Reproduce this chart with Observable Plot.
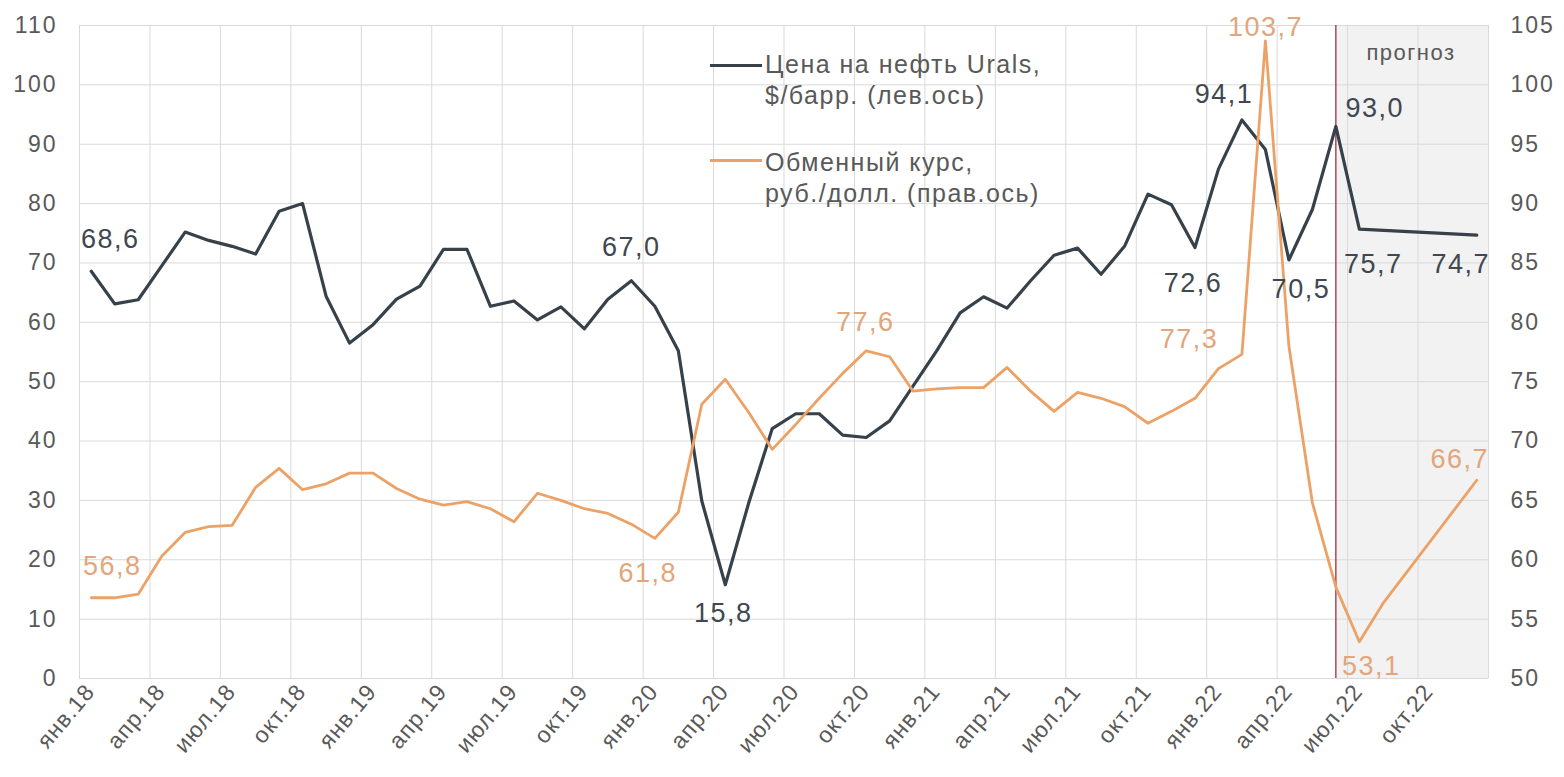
<!DOCTYPE html>
<html><head><meta charset="utf-8">
<script src="https://cdn.jsdelivr.net/npm/d3@7"></script>
<script src="https://cdn.jsdelivr.net/npm/@observablehq/plot@0.6"></script>
<style>
body{margin:0;background:#fff;}
#wrap{position:relative;width:1564px;height:777px;font-family:"Liberation Sans",Arial,sans-serif;}
.leg{position:absolute;color:#595959;font-size:25px;letter-spacing:1.5px;line-height:31px;white-space:nowrap;}
.sw{position:absolute;height:3px;}
g[aria-label="text"] text{letter-spacing:1.5px;}
g[aria-label="y-axis tick label"] text{letter-spacing:2px;}
g[aria-label="x-axis tick label"] text{letter-spacing:1px;}
</style></head><body><div id="wrap"></div>
<script>
// quarterly tick labels (every 3rd month, Jan 2018 .. Dec 2022)
const tickLabels = ["янв.18","апр.18","июл.18","окт.18","янв.19","апр.19","июл.19","окт.19",
  "янв.20","апр.20","июл.20","окт.20","янв.21","апр.21","июл.21","окт.21","янв.22","апр.22","июл.22","окт.22"];
// Urals price, $/bbl (left axis), monthly; null = no point
const oil = [68.6,63.1,63.8,69.5,75.2,73.8,72.8,71.5,78.7,80.0,64.4,56.5,
  59.6,63.9,66.1,72.3,72.3,62.7,63.6,60.4,62.6,58.9,63.9,67.0,
  62.7,55.2,29.9,15.8,29.6,42.1,44.6,44.6,41.0,40.6,43.4,49.3,
  55.2,61.6,64.3,62.4,67.0,71.3,72.5,68.1,72.8,81.6,79.8,72.6,
  85.8,94.1,89.1,70.5,79.0,93.0,75.7,null,null,null,null,74.7];
// RUB/USD exchange rate (right axis), monthly; null = no point
const fx = [56.8,56.8,57.1,60.3,62.3,62.8,62.9,66.1,67.7,65.9,66.4,67.3,
  67.3,66.0,65.1,64.6,64.9,64.3,63.2,65.6,65.0,64.3,63.9,63.0,
  61.8,64.0,73.1,75.2,72.4,69.3,71.4,73.6,75.7,77.6,77.1,74.2,
  74.4,74.5,74.5,76.2,74.2,72.5,74.1,73.6,72.9,71.5,72.5,73.6,
  76.1,77.3,103.7,78.0,64.8,57.7,53.1,56.3,null,null,null,66.7];
const leftTicks = [0,10,20,30,40,50,60,70,80,90,100,110];
const rightTicks = [50,55,60,65,70,75,80,85,90,95,100,105];
const oilLabelIdx = [0,23,27,47,49,51,53,54,59];
const fxLabelIdx = [0,24,33,49,50,54,59];
const forecastStart = 53;
const legendItems = ["Цена на нефть Urals,<br>$/барр. (лев.ось)", "Обменный курс,<br>руб./долл. (прав.ось)"];

// styles / offsets (not data)
const oilOff = [[19,-32],[0,-33],[-2,29],[-2,36],[-18,-26],[12,29],[39,-18],[14,35],[-16,29]];
const fxOff = [[21,-31],[-7,35],[-1,-28],[-53,-15],[0,-14],[12,25],[-17,-21]];
const OIL_C = "#36414a", FX_C = "#eca266", FX_T = "#e2a67c";

const toLeft = r => (r - 50) * 2;
const fmt = v => v.toFixed(1).replace(".", ",");
const oilData = oil.map((v,i)=>({i, v})).filter(d => d.v != null);
const fxData = fx.map((v,i)=>({i, v: v == null ? null : toLeft(v), r: v})).filter(d => d.v != null);
const tickIdx = tickLabels.map((_,k)=>3*k);
const gridX = d3.range(0, 21).map(k => -0.5 + 3*k);

const marks = [
  Plot.rect([{x1: forecastStart, x2: 59.5}], {x1:"x1", x2:"x2", fill:"#f2f2f2"}),
  Plot.ruleY(leftTicks, {stroke:"#d9d9d9", strokeWidth:1}),
  Plot.ruleX(gridX, {stroke:"#d9d9d9", strokeWidth:1}),
  Plot.ruleX([forecastStart], {stroke:"#a3313f", strokeWidth:1.3}),
  Plot.axisY(leftTicks, {anchor:"left", tickSize:0, tickPadding:22, fontSize:23, label:null}),
  Plot.axisY(rightTicks.map(toLeft), {anchor:"right", tickSize:0, tickPadding:22, fontSize:23, label:null, tickFormat: d => String(50 + d/2)}),
  Plot.axisX(tickIdx, {anchor:"bottom", tickSize:0, tickPadding:7, tickRotate:-50, fontSize:23, dx:-1, dy:2, label:null, tickFormat: d => tickLabels[d/3]}),
  Plot.line(oilData, {x:"i", y:"v", stroke:OIL_C, strokeWidth:3.2, strokeLinejoin:"round"}),
  Plot.line(fxData, {x:"i", y:"v", stroke:FX_C, strokeWidth:2.8, strokeLinejoin:"round"}),
  Plot.text(["прогноз"], {x: () => 56.2, frameAnchor:"top", lineAnchor:"middle", dy:27, text: d => d, fontSize:22, fill:"#595959"})
];
oilLabelIdx.forEach((idx,k) => marks.push(Plot.text([idx], {x: d=>d, y: d=>oil[d], text: d=>fmt(oil[d]), dx: oilOff[k][0], dy: oilOff[k][1], fontSize:27, fill:"#3f4850"})));
fxLabelIdx.forEach((idx,k) => marks.push(Plot.text([idx], {x: d=>d, y: d=>toLeft(fx[d]), text: d=>fmt(fx[d]), dx: fxOff[k][0], dy: fxOff[k][1], fontSize:27, fill:FX_T})));

const chart = Plot.plot({
  width:1564, height:777,
  marginLeft:79, marginRight:76, marginTop:25, marginBottom:99,
  x:{type:"linear", domain:[-0.5, 59.5], axis:null},
  y:{type:"linear", domain:[0,110], axis:null},
  style:{fontFamily:"'Liberation Sans', Arial, sans-serif", color:"#595959", background:"white", overflow:"visible"},
  marks
});
const wrap = document.getElementById("wrap");
wrap.appendChild(chart);

// legend overlay
const legPos = [{top:49, lineTop:64, color:OIL_C, h:3}, {top:147, lineTop:159, color:FX_C, h:3}];
legendItems.forEach((t,k) => {
  const sw = document.createElement("div");
  sw.className = "sw";
  sw.style.cssText = `left:710px;width:52px;top:${legPos[k].lineTop}px;background:${legPos[k].color};height:${legPos[k].h}px;`;
  wrap.appendChild(sw);
  const tx = document.createElement("div");
  tx.className = "leg";
  tx.style.left = "765px";
  tx.style.top = legPos[k].top + "px";
  tx.innerHTML = t;
  wrap.appendChild(tx);
});
</script></body></html>
